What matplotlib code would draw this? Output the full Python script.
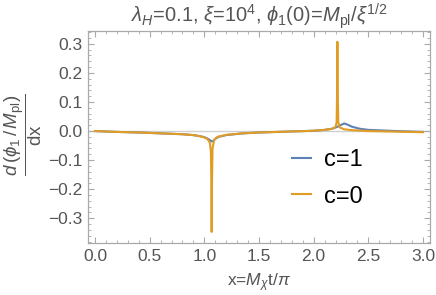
import matplotlib
matplotlib.use("Agg")
import matplotlib.pyplot as plt
from matplotlib.ticker import MultipleLocator

# c=1 series
x_c1 = [0, 0.2, 0.4, 0.6, 0.8, 0.9, 0.95, 1.0, 1.03, 1.05, 1.07, 1.085, 1.1, 1.13, 1.2,
        1.35, 1.5, 1.75, 2.0, 2.1, 2.17, 2.22, 2.25, 2.28, 2.31, 2.35, 2.42, 2.5, 2.75, 3.0]
y_c1 = [0, -0.003, -0.005, -0.008, -0.011, -0.014, -0.017, -0.021, -0.026, -0.031, -0.036,
        -0.033, -0.027, -0.02, -0.014, -0.008, -0.005, -0.002, 0.001, 0.004, 0.008, 0.015,
        0.021, 0.026, 0.022, 0.015, 0.008, 0.004, 0.0, -0.003]

# c=0 series
x_c0 = [0, 0.2, 0.4, 0.6, 0.8, 0.9, 0.95, 1.0, 1.03, 1.05, 1.06, 1.065, 1.067, 1.069, 1.075,
        1.09, 1.12, 1.2, 1.35, 1.5, 1.75, 2.0, 2.1, 2.17, 2.2, 2.21, 2.215, 2.217, 2.219,
        2.225, 2.24, 2.28, 2.35, 2.5, 2.75, 3.0]
y_c0 = [0, -0.003, -0.005, -0.008, -0.011, -0.014, -0.017, -0.022, -0.028, -0.04, -0.07,
        -0.2, -0.347, -0.2, -0.06, -0.03, -0.02, -0.013, -0.008, -0.005, -0.002, 0.001,
        0.004, 0.008, 0.014, 0.03, 0.15, 0.307, 0.15, 0.03, 0.012, 0.006, 0.003, 0.0,
        -0.002, -0.004]

labels = ["c=1", "c=0"]
colors = ["#5E81B5", "#E19C24"]

plt.rcParams['font.family'] = ['Liberation Sans', 'DejaVu Sans']
plt.rcParams['mathtext.fontset'] = 'custom'
plt.rcParams['mathtext.rm'] = 'Liberation Sans'
plt.rcParams['mathtext.it'] = 'Liberation Sans:italic'

gray = "#555555"
fig = plt.figure(figsize=(4.36, 2.95), dpi=100)
ax = fig.add_axes([88/436, 1-243/295, (430-88)/436, (243-31)/295])

ax.axhline(0, color="#d0d0d0", lw=1.0, zorder=1)
ax.plot(x_c1, y_c1, color=colors[0], lw=1.5, label=labels[0], zorder=2)
ax.plot(x_c0, y_c0, color=colors[1], lw=1.5, label=labels[1], zorder=3)

ax.set_xlim(-0.064, 3.064)
ax.set_ylim(-0.385, 0.344)
ax.xaxis.set_major_locator(MultipleLocator(0.5))
ax.xaxis.set_minor_locator(MultipleLocator(0.1))
ax.yaxis.set_major_locator(MultipleLocator(0.1))
ax.yaxis.set_minor_locator(MultipleLocator(0.02))
ax.xaxis.set_major_formatter(plt.FuncFormatter(lambda v, p: f"{v:.1f}".replace("-", "\u2212")))
ax.yaxis.set_major_formatter(plt.FuncFormatter(lambda v, p: f"{v:.1f}".replace("-0.0", "0.0").replace("-", "\u2212")))
ax.tick_params(which='both', direction='in', top=True, right=True, color="#aaaaaa",
               labelcolor=gray, labelsize=12.5)
ax.tick_params(which='major', length=4, width=0.8, pad=4)
ax.tick_params(which='minor', length=2, width=0.6)
for s in ax.spines.values():
    s.set_color("#aaaaaa")
    s.set_linewidth(0.9)

ax.set_title(r"$\lambda_H$=0.1, $\xi$=10$^4$, $\phi_1$(0)=$M_{\rm pl}$/$\xi^{1/2}$",
             color=gray, fontsize=14.5, pad=5)
ax.set_xlabel(r"x=$M_\chi$t/$\pi$", color=gray, fontsize=12.5, labelpad=6)
fig.text(23/436, 1-135/295, r"$\dfrac{d\,(\phi_1\,/\,M_{\rm pl})}{\rm dx}$", rotation=90,
         color=gray, fontsize=13.5, ha='center', va='center')

leg = ax.legend(loc='center left', bbox_to_anchor=(292/436, 1-178.5/295),
                bbox_transform=fig.transFigure, frameon=False, borderpad=0, borderaxespad=0,
                fontsize=17, handlelength=0.8, handletextpad=0.55, labelspacing=0.6)

fig.savefig("out.png", dpi=100)
